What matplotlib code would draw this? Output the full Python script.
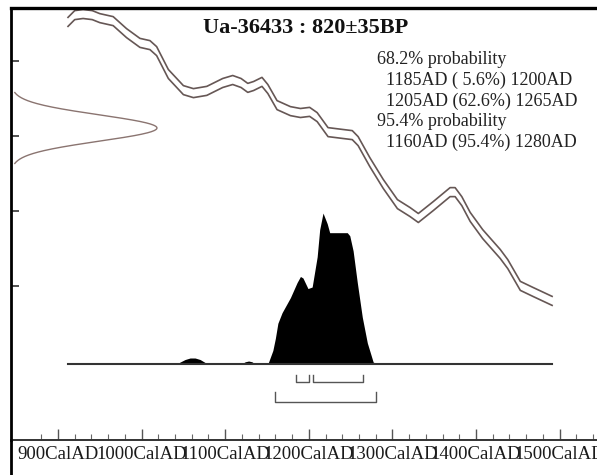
import numpy as np
import matplotlib
matplotlib.use("Agg")
import matplotlib.pyplot as plt
from matplotlib.lines import Line2D

plt.rcParams['font.family'] = ['Liberation Serif', 'DejaVu Serif']

# ---- data ----
TITLE = "Ua-36433 : 820±35BP"
BP_MEAN = 820
BP_ERR = 35

prob_lines = [
    "68.2% probability",
    "  1185AD ( 5.6%) 1200AD",
    "  1205AD (62.6%) 1265AD",
    "95.4% probability",
    "  1160AD (95.4%) 1280AD",
]

# calibration curve (mean)
curve_year = [912, 920, 930, 941, 950, 966, 982, 998, 1010, 1018, 1032, 1050,
              1062, 1078, 1097, 1109, 1119, 1127, 1134, 1144, 1151, 1162, 1178,
              1190, 1201, 1210, 1223, 1241, 1252, 1259, 1273, 1289, 1306, 1321,
              1331, 1349, 1369, 1375, 1383, 1393, 1408, 1429, 1438, 1453, 1468,
              1491]
curve_bp = [1103, 1121, 1124, 1121, 1113, 1105, 1073, 1047, 1041, 1025, 964, 921,
            913, 919, 940, 948, 940, 927, 932, 943, 924, 881, 865,
            860, 863, 849, 809, 804, 801, 785, 729, 671, 617, 596,
            580, 612, 649, 649, 625, 583, 537, 484, 457, 399, 383,
            359]
CURVE_SIGMA = 12

# calibrated probability (relative to max)
dist_year = [912, 1040, 1045, 1052, 1058, 1064, 1070, 1076, 1080,
             1119, 1124, 1128, 1132, 1136, 1150,
             1151, 1155, 1157, 1160, 1163, 1168, 1178, 1186, 1190, 1193,
             1199, 1204, 1210, 1213, 1217, 1222, 1225, 1231, 1237, 1246,
             1249, 1253, 1258, 1264, 1270, 1277, 1282, 1491]
dist_prob = [0, 0, 0.01, 0.03, 0.04, 0.04, 0.03, 0.01, 0,
             0, 0.015, 0.02, 0.015, 0, 0,
             0, 0.06, 0.09, 0.17, 0.27, 0.34, 0.44, 0.54, 0.58, 0.57,
             0.50, 0.51, 0.71, 0.89, 1.0, 0.93, 0.87, 0.87, 0.87, 0.87,
             0.85, 0.75, 0.54, 0.31, 0.14, 0.013, 0, 0]

ranges_68 = [(1185, 1200), (1205, 1265)]
ranges_95 = [(1160, 1280)]

xtick_years = [900, 1000, 1100, 1200, 1300, 1400, 1500]
xtick_labels = [f"{y}CalAD" for y in xtick_years]
ytick_bp = [400, 600, 800, 1000]

# ---- figure ----
W, H = 597, 475
fig = plt.figure(figsize=(W / 100, H / 100), dpi=100)

ax_l, ax_t, ax_r, ax_b = 11, 8, 600, 440
ax = fig.add_axes([ax_l / W, 1 - ax_b / H, (ax_r - ax_l) / W, (ax_b - ax_t) / H])
ax.set_xlim(843.8, 1548.3)
ax.set_ylim(-12, 1140)

line_col = '#665755'
ax.plot(curve_year, np.array(curve_bp) + CURVE_SIGMA, color=line_col, lw=1.2)
ax.plot(curve_year, np.array(curve_bp) - CURVE_SIGMA, color=line_col, lw=1.2)

# radiocarbon date on the y axis
g_bp = np.linspace(BP_MEAN - 2.7 * BP_ERR, BP_MEAN + 2.7 * BP_ERR, 200)
g_x = 843.8 + 174.6 * np.exp(-0.5 * ((g_bp - BP_MEAN) / BP_ERR) ** 2)
ax.plot(g_x, g_bp, color='#8a7470', lw=1.0)

for side in ['top', 'left', 'bottom', 'right']:
    ax.spines[side].set_color('black')
ax.spines['top'].set_linewidth(2.4)
ax.spines['left'].set_linewidth(2.0)
ax.spines['bottom'].set_linewidth(1.4)
ax.spines['bottom'].set_color('#333333')
ax.spines['right'].set_visible(False)

ax.set_xticks(xtick_years)
ax.set_xticklabels(xtick_labels)
ax.set_xticks(np.arange(880, 1560, 20), minor=True)
ax.tick_params(axis='x', which='major', direction='in', length=8, width=1,
               color='#555555', pad=4, labelsize=13.5, labelcolor='#1a1a1a')
ax.tick_params(axis='x', which='minor', direction='in', length=4, width=0.8,
               color='#666666')
ax.set_yticks(ytick_bp)
ax.set_yticklabels([])
ax.tick_params(axis='y', which='major', direction='in', length=6, width=1.2,
               color='#333333')

# calibrated distribution on its own scale
ax2 = ax.twinx()
ax2.set_ylim(-0.503, 2.358)
ax2.set_axis_off()
ax2.fill_between(dist_year, 0, dist_prob, color='black', lw=0)
ax2.plot([912, 1491], [0, 0], color='#333333', lw=1.5)

br_col = '#555555'
for a, b in ranges_68:
    ax2.plot([a, a, b, b], [-0.073, -0.119, -0.119, -0.073], color=br_col, lw=1)
for a, b in ranges_95:
    ax2.plot([a, a, b, b], [-0.185, -0.252, -0.252, -0.185], color=br_col, lw=1)

# frame continues below the axis line
fig.add_artist(Line2D([ax_l / W, ax_l / W], [0, 1 - ax_b / H], color='black', lw=2.0))

fig.text(306 / W, 1 - 28 / H, TITLE, ha='center', va='center',
         fontsize=16, fontweight='bold', color='#111111')

for i, s in enumerate(prob_lines):
    fig.text(377 / W, 1 - (60 + 20.5 * i) / H, s, ha='left', va='center',
             fontsize=13, color='#222222')

fig.savefig("out.png", dpi=100)
